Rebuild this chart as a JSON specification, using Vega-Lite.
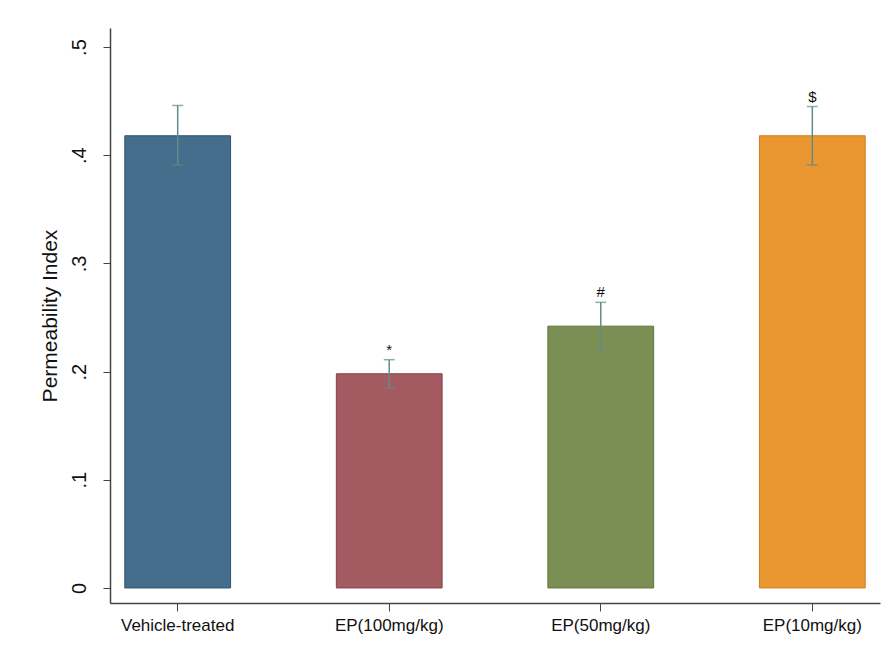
{
  "$schema": "https://vega.github.io/schema/vega-lite/v6.json",
  "autosize": "none",
  "width": 770,
  "height": 575,
  "padding": {"left": 110, "top": 28, "right": 11, "bottom": 55},
  "background": "white",
  "config": {
    "view": {"stroke": null},
    "font": "Liberation Sans"
  },
  "data": {
    "values": [
      {"group": "Vehicle-treated", "mean": 0.418, "lo": 0.391, "hi": 0.446, "sig": ""},
      {"group": "EP(100mg/kg)", "mean": 0.198, "lo": 0.185, "hi": 0.211, "sig": "*"},
      {"group": "EP(50mg/kg)", "mean": 0.242, "lo": 0.220, "hi": 0.264, "sig": "#"},
      {"group": "EP(10mg/kg)", "mean": 0.418, "lo": 0.391, "hi": 0.445, "sig": "$"}
    ]
  },
  "encoding": {
    "x": {
      "field": "group",
      "type": "nominal",
      "sort": null,
      "scale": {"paddingInner": 0.5, "paddingOuter": 0.07},
      "axis": {
        "title": null,
        "labelAngle": 0,
        "labelFont": "Liberation Sans",
        "labelFontSize": 17,
        "labelColor": "#111111",
        "labelPadding": 6,
        "tickSize": 8,
        "tickColor": "#444444",
        "domainColor": "#444444",
        "domainWidth": 1.5,
        "grid": false
      }
    }
  },
  "layer": [
    {
      "mark": {"type": "bar", "strokeWidth": 1},
      "encoding": {
        "y": {
          "field": "mean",
          "type": "quantitative",
          "scale": {"domain": [-0.0139, 0.5176], "nice": false, "zero": false},
          "axis": {
            "title": "Permeability Index",
            "titleFontSize": 21,
            "titleFontWeight": "normal",
            "titleColor": "#111111",
            "titlePadding": 9,
            "values": [0, 0.1, 0.2, 0.3, 0.4, 0.5],
            "labelExpr": "datum.value == 0 ? '0' : replace(format(datum.value, '.1f'), '0.', '.')",
            "labelAngle": -90,
            "labelAlign": "center",
            "labelBaseline": "bottom",
            "labelFontSize": 20,
            "labelColor": "#111111",
            "labelPadding": 14,
            "tickSize": 7,
            "tickColor": "#444444",
            "domainColor": "#444444",
            "domainWidth": 1.5,
            "grid": false
          }
        },
        "y2": {"datum": 0},
        "color": {
          "field": "group",
          "type": "nominal",
          "sort": null,
          "scale": {
            "domain": ["Vehicle-treated", "EP(100mg/kg)", "EP(50mg/kg)", "EP(10mg/kg)"],
            "range": ["#456d8c", "#a35a60", "#7b8f54", "#eb9731"]
          },
          "legend": null
        },
        "stroke": {
          "field": "group",
          "type": "nominal",
          "sort": null,
          "scale": {
            "domain": ["Vehicle-treated", "EP(100mg/kg)", "EP(50mg/kg)", "EP(10mg/kg)"],
            "range": ["#2f5470", "#86434a", "#5f743c", "#d07f1d"]
          },
          "legend": null
        }
      }
    },
    {
      "mark": {"type": "rule", "color": "#5f8c8a", "strokeWidth": 1.5},
      "encoding": {
        "y": {"field": "lo", "type": "quantitative"},
        "y2": {"field": "hi"}
      }
    },
    {
      "mark": {"type": "tick", "color": "#5f8c8a", "thickness": 1.5, "size": 11},
      "encoding": {
        "y": {"field": "hi", "type": "quantitative"}
      }
    },
    {
      "mark": {"type": "tick", "color": "#5f8c8a", "thickness": 1.5, "size": 11},
      "encoding": {
        "y": {"field": "lo", "type": "quantitative"}
      }
    },
    {
      "mark": {"type": "text", "fontSize": 15, "color": "#111111", "baseline": "bottom", "dy": -2},
      "encoding": {
        "y": {"field": "hi", "type": "quantitative"},
        "text": {"field": "sig"}
      }
    }
  ]
}
